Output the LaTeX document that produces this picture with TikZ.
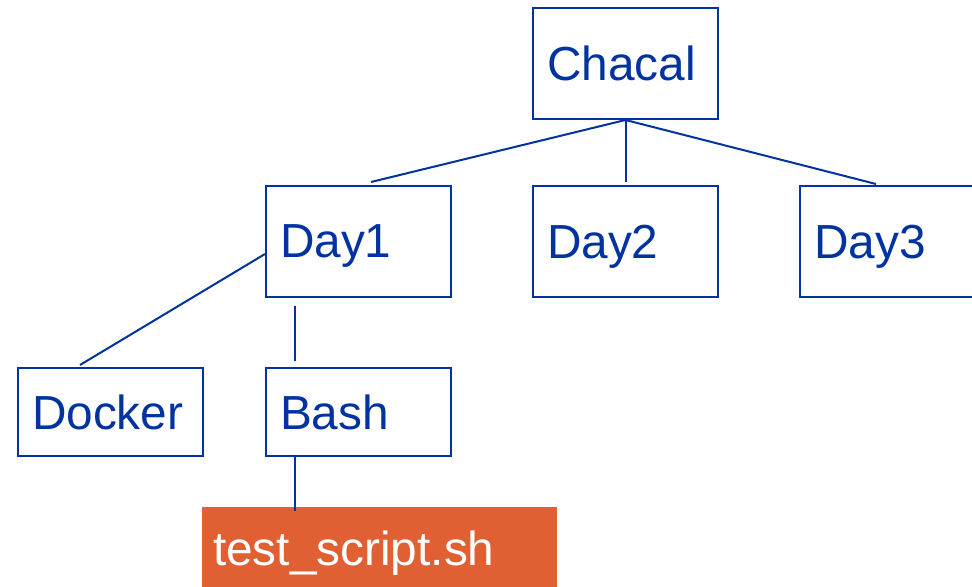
\documentclass[tikz,border=0pt]{standalone}
\usepackage{fontspec}
\setmainfont{Liberation Sans}
\usepackage{tikz}

\definecolor{treeblue}{RGB}{0,51,160}
\definecolor{scriptorange}{RGB}{224,96,52}

\tikzset{
	dirbox/.style={draw=treeblue,line width=0.04cm,text=treeblue,
		minimum width=3.7cm,minimum height=2.22cm,text width=3.14cm,
		inner xsep=0.28cm,align=left,text depth=0pt,
		font=\fontsize{27.2}{30}\selectfont},
	link/.style={treeblue,line width=0.04cm}
}

\begin{document}
\begin{tikzpicture}[x=0.02cm,y=-0.02cm]
	\clip (0,0) rectangle (972,587);
	\useasboundingbox (0,0) rectangle (972,587);

	%ROOT
	\node[dirbox] (chacal) at (625.5,63.5) {Chacal};

	%DAYS
	\node[dirbox] (day1) at (358.5,241.5) {Day1};
	\node[dirbox] (day2) at (625.5,241.5) {Day2};
	\node[dirbox] (day3) at (892.5,241.5) {Day3};

	%DAY1 CONTENT
	\node[dirbox,minimum height=1.76cm] (docker) at (110.5,412) {Docker};
	\node[dirbox,minimum height=1.76cm] (bash) at (358.5,412) {Bash};
	\node[fill=scriptorange,text=white,minimum width=7.1cm,minimum height=1.64cm,
		text width=6.66cm,inner xsep=0.22cm,align=left,text depth=0pt,
		font=\fontsize{27.2}{30}\selectfont] (script) at (379.5,548) {test\_script.sh};

	\draw[link] (chacal.south) -- ([shift={(12.5,-3)}]day1.north); %chacal--day1
	\draw[link] (chacal.south) -- ([shift={(0,-3)}]day2.north); %chacal--day2
	\draw[link] (chacal.south) -- ([shift={(-16.5,-1)}]day3.north); %chacal--day3
	\draw[link] ([shift={(0,12.5)}]day1.west) -- ([shift={(-30.5,-2)}]docker.north); %day1--docker
	\draw[link] ([shift={(-63.5,8)}]day1.south) -- ([shift={(-63.5,-6)}]bash.north); %day1--bash
	\draw[link] ([shift={(-63.5,-2)}]bash.south) -- ([shift={(-84.5,4)}]script.north); %bash--script
\end{tikzpicture}
\end{document}
